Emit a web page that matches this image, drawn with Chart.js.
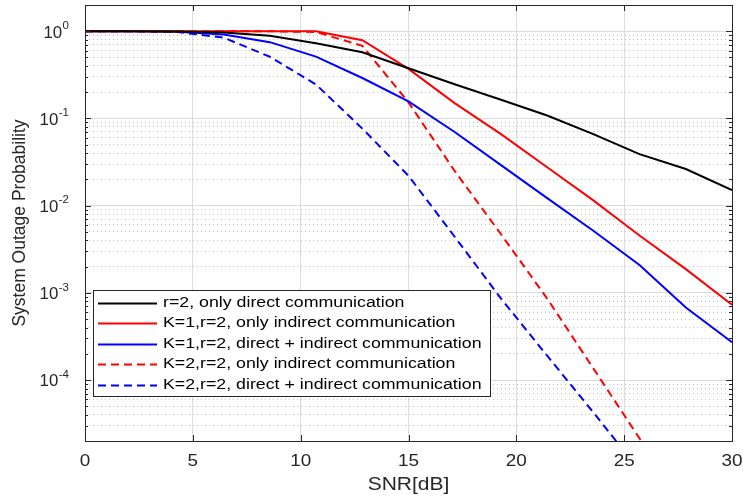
<!DOCTYPE html>
<html>
<head>
<meta charset="utf-8">
<script src="https://cdn.jsdelivr.net/npm/chart.js@4"></script>
<style>
  html, body { margin: 0; padding: 0; background: #fff; }
</style>
</head>
<body>
<canvas id="chart" width="743" height="500"></canvas>
<script>
// SNR sample points (dB)
var snr = [0, 2.14, 4.29, 6.43, 8.57, 10.71, 12.86, 15, 17.14, 19.29, 21.43, 23.57, 25.71, 27.86, 30];

// outage probability per curve
var directOnly   = [1, 1, 0.995, 0.97, 0.89, 0.73, 0.574, 0.377, 0.247, 0.164, 0.108, 0.066, 0.039, 0.0263, 0.0151];
var k1Indirect   = [1, 1, 1, 1, 1, 1, 0.79, 0.37, 0.150, 0.066, 0.0276, 0.0115, 0.00455, 0.00187, 0.00073];
var k1Both       = [1, 1, 0.99, 0.92, 0.75, 0.512, 0.291, 0.157, 0.070, 0.0292, 0.0122, 0.00515, 0.00209, 0.00068, 0.000272];
var k2Indirect   = [1, 1, 1, 1, 1, 0.98, 0.68, 0.153, 0.025, 0.0047, 0.00086, 0.000136, 0.0000215, 0.0000032, 0.00000045];
var k2Both       = [1, 1, 0.98, 0.845, 0.51, 0.245, 0.0765, 0.022, 0.0044, 0.00086, 0.00019, 0.0000426, 0.0000092, 0.0000019, 0.00000036];

var seriesLabels = [
  'r=2, only direct communication',
  'K=1,r=2, only indirect communication',
  'K=1,r=2, direct + indirect communication',
  'K=2,r=2, only indirect communication',
  'K=2,r=2, direct + indirect communication'
];

var xTicks = [0, 5, 10, 15, 20, 25, 30];
var yDecades = [1e-4, 1e-3, 1e-2, 1e-1, 1];
var yExponents = ['-4', '-3', '-2', '-1', '0'];

var FONT = '"Liberation Sans", Arial, Helvetica, sans-serif';
var AXIS = '#262626';
var YMIN = 2e-5, YMAX = 2;

function pts(ys) {
  return snr.map(function (x, i) { return { x: x, y: ys[i] }; });
}

// major + minor grid values for the log axis
var yGrid = [];
for (var e = -5; e <= 0; e++) {
  for (var m = 1; m <= 9; m++) {
    var v = +(m * Math.pow(10, e)).toPrecision(3);
    if (v >= YMIN && v <= 1.0001) yGrid.push({ value: v, major: m === 1 });
  }
}

// text drawn with a small horizontal stretch, like the source figure
function drawText(ctx, str, x, y, font, align, sx, color) {
  ctx.save();
  ctx.font = font;
  ctx.fillStyle = color || AXIS;
  ctx.textBaseline = 'middle';
  ctx.textAlign = 'left';
  var w = ctx.measureText(str).width * sx;
  var left = align === 'center' ? x - w / 2 : (align === 'right' ? x - w : x);
  ctx.translate(left, y);
  ctx.scale(sx, 1);
  ctx.fillText(str, 0, 0);
  ctx.restore();
  return w;
}

var matlabAxes = {
  id: 'matlabAxes',
  afterDraw: function (chart) {
    var ctx = chart.ctx;
    var a = chart.chartArea;
    var xs = chart.scales.x, ys = chart.scales.y;

    ctx.save();
    ctx.strokeStyle = AXIS;
    ctx.lineWidth = 1;

    // inward tick marks, all four sides
    ctx.beginPath();
    xTicks.forEach(function (t) {
      var px = Math.round(xs.getPixelForValue(t)) + 0.5;
      ctx.moveTo(px, a.bottom); ctx.lineTo(px, a.bottom - 6);
      ctx.moveTo(px, a.top); ctx.lineTo(px, a.top + 6);
    });
    yGrid.forEach(function (t) {
      if (t.value <= YMIN) return;
      var py = Math.round(ys.getPixelForValue(t.value)) + 0.5;
      var len = t.major ? 6 : 3;
      ctx.moveTo(a.left, py); ctx.lineTo(a.left + len, py);
      ctx.moveTo(a.right, py); ctx.lineTo(a.right - len, py);
    });
    ctx.stroke();

    // box
    ctx.strokeRect(a.left + 0.5, a.top + 0.5, a.right - a.left, a.bottom - a.top);
    ctx.restore();

    // x tick labels
    xTicks.forEach(function (t) {
      drawText(ctx, String(t), xs.getPixelForValue(t), 462, '16px ' + FONT, 'center', 1.18);
    });

    // y tick labels 10^k
    yDecades.forEach(function (d, i) {
      var py = ys.getPixelForValue(d);
      ctx.save();
      ctx.font = '11.5px ' + FONT;
      var ew = ctx.measureText(yExponents[i]).width;
      ctx.restore();
      var right = 69;
      drawText(ctx, yExponents[i], right - ew, py - 5.5, '11.5px ' + FONT, 'left', 1, AXIS);
      drawText(ctx, '10', right - ew - 0.5, py + 2, '16px ' + FONT, 'right', 1.05, AXIS);
    });

    // axis titles
    drawText(ctx, 'SNR[dB]', (a.left + a.right) / 2, 485, '17.5px ' + FONT, 'center', 1.2);
    ctx.save();
    ctx.translate(20, (a.top + a.bottom) / 2);
    ctx.rotate(-Math.PI / 2);
    drawText(ctx, 'System Outage Probability', 0, 0, '17.5px ' + FONT, 'center', 1.0);
    ctx.restore();

    // legend box
    var lx = 93, ly = 290, lw = 397, lh = 106;
    ctx.save();
    ctx.fillStyle = '#fff';
    ctx.fillRect(lx, ly, lw, lh);
    ctx.strokeStyle = AXIS;
    ctx.lineWidth = 1;
    ctx.strokeRect(lx + 0.5, ly + 0.5, lw, lh);
    chart.data.datasets.forEach(function (ds, i) {
      var cy = 302.5 + i * 20.6;
      ctx.beginPath();
      ctx.strokeStyle = ds.borderColor;
      ctx.lineWidth = 2;
      ctx.setLineDash(ds.borderDash || []);
      ctx.moveTo(98, Math.round(cy) + 0.5);
      ctx.lineTo(157, Math.round(cy) + 0.5);
      ctx.stroke();
      ctx.setLineDash([]);
      drawText(ctx, ds.label, 163, cy, '15.2px ' + FONT, 'left', 1.17, '#000');
    });
    ctx.restore();
  }
};

function series(label, data, color, dashed) {
  return {
    label: label,
    data: pts(data),
    borderColor: color,
    backgroundColor: color,
    borderWidth: 2,
    borderDash: dashed ? [8, 5] : [],
    pointRadius: 0,
    tension: 0,
    fill: false
  };
}

new Chart(document.getElementById('chart'), {
  type: 'line',
  data: {
    datasets: [
      series(seriesLabels[0], directOnly, '#000000', false),
      series(seriesLabels[1], k1Indirect, '#ff0000', false),
      series(seriesLabels[2], k1Both, '#0000ff', false),
      series(seriesLabels[3], k2Indirect, '#ff0000', true),
      series(seriesLabels[4], k2Both, '#0000ff', true)
    ]
  },
  options: {
    responsive: false,
    animation: false,
    devicePixelRatio: 1,
    layout: { padding: { top: 5, right: 11, left: 0, bottom: 0 } },
    plugins: { legend: { display: false }, tooltip: { enabled: false } },
    scales: {
      x: {
        type: 'linear',
        min: 0,
        max: 30,
        ticks: { stepSize: 5, display: false },
        grid: { color: '#dcdcdc', drawTicks: false },
        border: { display: false },
        afterFit: function (s) { s.height = 59; }
      },
      y: {
        type: 'logarithmic',
        min: YMIN,
        max: YMAX,
        afterBuildTicks: function (s) {
          s.ticks = yGrid.map(function (t) { return { value: t.value, major: t.major }; });
        },
        ticks: { display: false },
        grid: {
          drawTicks: false,
          color: function (c) { return c.tick && c.tick.major ? '#dcdcdc' : '#c4c4c4'; }
        },
        border: {
          display: false,
          dash: function (c) { return c.tick && !c.tick.major ? [1, 3] : []; }
        },
        afterFit: function (s) { s.width = 85; }
      }
    }
  },
  plugins: [matlabAxes]
});
</script>
</body>
</html>
